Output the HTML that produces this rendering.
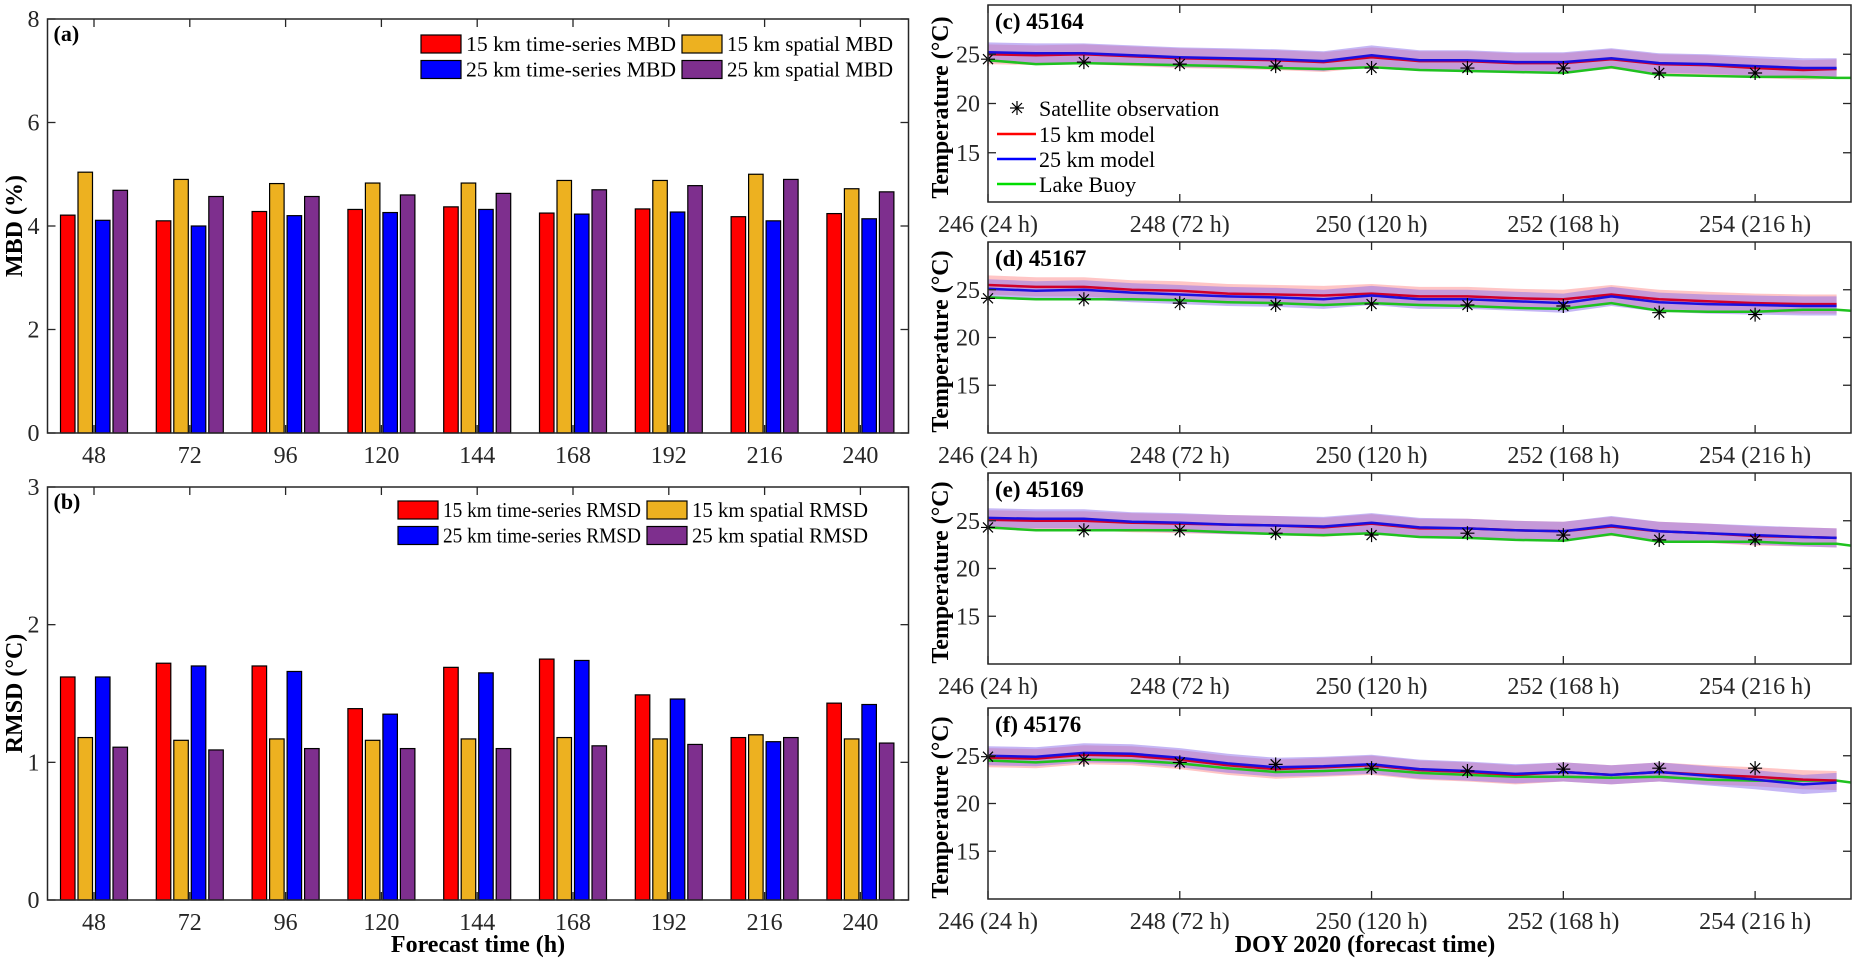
<!DOCTYPE html>
<html><head><meta charset="utf-8">
<style>
html,body{margin:0;padding:0;background:#fff;}
svg{display:block;font-family:"Liberation Serif",serif;}
svg text{font-family:"Liberation Serif",serif;}
</style></head>
<body>
<svg id="fig" width="1852" height="958" viewBox="0 0 1852 958" xmlns="http://www.w3.org/2000/svg" font-family="Liberation Serif, serif"></svg>
<script>
// ---------- Bar chart data ----------
const barCategories = [48,72,96,120,144,168,192,216,240];
const mbd15ts = [4.21,4.10,4.28,4.32,4.37,4.25,4.33,4.18,4.24];
const mbd15sp = [5.04,4.90,4.82,4.83,4.83,4.88,4.88,5.00,4.72];
const mbd25ts = [4.11,4.00,4.20,4.26,4.32,4.23,4.27,4.10,4.14];
const mbd25sp = [4.69,4.57,4.57,4.60,4.63,4.70,4.78,4.90,4.66];
const rmsd15ts = [1.62,1.72,1.70,1.39,1.69,1.75,1.49,1.18,1.43];
const rmsd15sp = [1.18,1.16,1.17,1.16,1.17,1.18,1.17,1.20,1.17];
const rmsd25ts = [1.62,1.70,1.66,1.35,1.65,1.74,1.46,1.15,1.42];
const rmsd25sp = [1.11,1.09,1.10,1.10,1.10,1.12,1.13,1.18,1.14];
const mbdTicks = [0,2,4,6,8];
const rmsdTicks = [0,1,2,3];

// ---------- Time series data ----------
const modelTimes = [246,246.5,247,247.5,248,248.5,249,249.5,250,250.5,251,251.5,252,252.5,253,253.5,254,254.5,254.85];
const buoyTimes = [246,246.5,247,247.5,248,248.5,249,249.5,250,250.5,251,251.5,252,252.5,253,253.5,254,254.5,254.85,255];
const satTimes = [246,247,248,249,250,251,252,253,254];
const doyTicks = [246,248,250,252,254];
const doyTickLabels = ["246 (24 h)","248 (72 h)","250 (120 h)","252 (168 h)","254 (216 h)"];
const tempTicks = [15,20,25];

const c15 = [25.0,24.9,25.0,24.8,24.6,24.5,24.4,24.2,24.7,24.3,24.3,24.1,24.1,24.5,24.0,23.9,23.6,23.4,23.5];
const c25 = [25.2,25.1,25.1,24.9,24.7,24.6,24.5,24.3,24.9,24.4,24.4,24.2,24.2,24.6,24.1,24.0,23.8,23.6,23.6];
const cBuoy = [24.4,24.0,24.1,24.0,23.9,23.8,23.6,23.5,23.7,23.4,23.3,23.2,23.1,23.7,22.9,22.8,22.7,22.7,22.6,22.6];
const cSat = [24.5,24.2,24.0,23.8,23.6,23.6,23.6,23.1,23.1];

const d15 = [25.5,25.3,25.3,25.0,24.9,24.6,24.5,24.4,24.6,24.3,24.3,24.1,24.0,24.5,24.0,23.8,23.6,23.5,23.5];
const d25 = [25.1,24.9,25.0,24.7,24.5,24.3,24.2,24.0,24.4,24.0,24.0,23.8,23.6,24.3,23.7,23.5,23.4,23.3,23.3];
const dBuoy = [24.2,24.0,24.0,24.0,23.9,23.7,23.6,23.4,23.6,23.4,23.3,23.1,23.0,23.6,22.8,22.7,22.7,22.9,22.9,22.8];
const dSat = [24.1,24.0,23.6,23.4,23.5,23.4,23.3,22.6,22.4];

const e15 = [25.1,25.0,25.0,24.8,24.7,24.6,24.5,24.3,24.7,24.2,24.2,24.0,23.9,24.4,23.9,23.7,23.4,23.3,23.2];
const e25 = [25.3,25.2,25.2,24.9,24.8,24.6,24.5,24.4,24.8,24.3,24.2,24.0,23.9,24.5,23.9,23.7,23.5,23.3,23.2];
const eBuoy = [24.3,24.0,24.0,24.0,24.0,23.8,23.6,23.5,23.7,23.3,23.2,23.0,22.9,23.6,22.8,22.8,22.8,22.6,22.6,22.4];
const eSat = [24.3,24.0,24.0,23.7,23.5,23.7,23.5,23.0,23.0];

const f15 = [24.8,24.7,25.1,25.0,24.6,24.0,23.6,23.8,24.0,23.5,23.3,23.0,23.3,23.0,23.3,23.0,22.8,22.5,22.4];
const f25 = [25.0,24.9,25.3,25.2,24.8,24.2,23.8,23.9,24.1,23.6,23.4,23.1,23.3,23.0,23.3,22.9,22.5,22.0,22.2];
const fBuoy = [24.5,24.3,24.6,24.5,24.2,23.7,23.3,23.4,23.6,23.2,23.0,22.8,22.8,22.7,22.8,22.5,22.4,22.4,22.4,22.2];
const fSat = [24.9,24.6,24.3,24.1,23.7,23.4,23.6,23.7,23.7];

const spreadHalf = 1.0;

const NS = "http://www.w3.org/2000/svg";
const svg = document.getElementById('fig');
function mk(tag, attrs, parent){
  const e = document.createElementNS(NS, tag);
  for (const k in attrs) e.setAttribute(k, attrs[k]);
  if (tag === 'text') e.setAttribute('font-family', 'Liberation Serif, serif');
  (parent||svg).appendChild(e);
  return e;
}
function txt(s, attrs, parent){ const e = mk('text', attrs, parent); e.textContent = s; return e; }

// ---------- Bar panels ----------
const BX0 = 47.5, BX1 = 908.5;
const groupStep = 95.8, group0 = 94;
function bx(i){ return group0 + i*groupStep; }
const barColors = ['#ff0000','#edb120','#0000ff','#7e2f8e'];
const barOffsets = [-26.25,-8.75,8.75,26.25];
const barW = 14.5;

function barPanel(opts){
  const g = mk('g', {});
  
  
  const ys = v => opts.y0 - (v - opts.vmin)/(opts.vmax-opts.vmin)*(opts.y0-opts.y1);
  const series = opts.series;
  for (let s=0;s<series.length;s++){
    for (let i=0;i<barCategories.length;i++){
      const cx = bx(i) + barOffsets[s];
      const y = ys(series[s][i]);
      const r = mk('rect', {x:cx-barW/2, y:y, width:barW, height:opts.y0-y, fill:barColors[s], stroke:'#000', 'stroke-width':1.2}, g);
      
      
    }
  }
  const box = mk('rect', {x:BX0, y:opts.y1, width:BX1-BX0, height:opts.y0-opts.y1, fill:'none', stroke:'#262626', 'stroke-width':1.5}, g);
  
  
  for (let i=0;i<barCategories.length;i++){
    const x = bx(i);
    mk('line', {x1:x, x2:x, y1:opts.y0, y2:opts.y0-8, stroke:'#262626', 'stroke-width':1.3}, g);
    mk('line', {x1:x, x2:x, y1:opts.y1, y2:opts.y1+8, stroke:'#262626', 'stroke-width':1.3}, g);
    const t = txt(String(barCategories[i]), {x:x, y:opts.y0+30, 'text-anchor':'middle', 'font-size':24, fill:'#262626'}, g);
    
    
  }
  for (const v of opts.ticks){
    const y = ys(v);
    mk('line', {x1:BX0, x2:BX0+8, y1:y, y2:y, stroke:'#262626', 'stroke-width':1.3}, g);
    mk('line', {x1:BX1, x2:BX1-8, y1:y, y2:y, stroke:'#262626', 'stroke-width':1.3}, g);
    const t = txt(String(v), {x:BX0-8, y:y+8, 'text-anchor':'end', 'font-size':24, fill:'#262626'}, g);
    
    
  }
  const pl = txt(opts.label, {x:BX0+6, y:opts.y1+22, 'font-size':22, 'font-weight':'bold'}, g);
  
  
  const yt = txt(opts.ytitle, {x:0, y:0, 'font-size':24, 'font-weight':'bold', 'text-anchor':'middle', transform:'translate(22,'+((opts.y0+opts.y1)/2)+') rotate(-90)'}, g);
  
  
  const L = opts.legend;
  for (let k=0;k<4;k++){
    const col = k%2===0 ? 0 : 1;
    const row = k<2 ? 0 : 1;
    const sx = col===0 ? L.x1 : L.x2;
    const sy = L.y + row*25.5;
    const ent = mk('g', {}, g);
    
    
    mk('rect', {x:sx, y:sy, width:40, height:18, fill:barColors[k], stroke:'#000', 'stroke-width':1.2}, ent);
    const lt = txt(L.labels[k], {x:sx+45, y:sy+16, 'font-size':21}, ent);
    lt.setAttribute('textLength', L.widths[k]);
    lt.setAttribute('lengthAdjust', 'spacingAndGlyphs');
  }
}
barPanel({name:'mbd-panel', y0:433, y1:19, vmin:0, vmax:8, ticks:mbdTicks, label:'(a)', ytitle:'MBD (%)',
  series:[mbd15ts, mbd15sp, mbd25ts, mbd25sp], keys:['15ts','15sp','25ts','25sp'],
  legend:{x1:421, x2:682, y:35, labels:['15 km time-series MBD','15 km spatial MBD','25 km time-series MBD','25 km spatial MBD'], widths:[210,166,210,166]}});
barPanel({name:'rmsd-panel', y0:900, y1:487, vmin:0, vmax:3, ticks:rmsdTicks, label:'(b)', ytitle:'RMSD (°C)',
  series:[rmsd15ts, rmsd15sp, rmsd25ts, rmsd25sp], keys:['15ts','15sp','25ts','25sp'],
  legend:{x1:398, x2:647, y:501, labels:['15 km time-series RMSD','15 km spatial RMSD','25 km time-series RMSD','25 km spatial RMSD'], widths:[198,176,198,176]}});
const xt = txt('Forecast time (h)', {x:(BX0+BX1)/2, y:952, 'text-anchor':'middle', 'font-size':24, 'font-weight':'bold'});



// ---------- Time series panels ----------
const TX0 = 988, TX1 = 1851, DMIN = 246, DMAX = 255;
const tx = d => TX0 + (d-DMIN)/(DMAX-DMIN)*(TX1-TX0);

function stepPath(times, vals, ys){
  let p = '';
  for (let i=0;i<times.length;i++){
    p += (i===0?'M':'L') + tx(times[i]).toFixed(1) + ',' + ys(vals[i]).toFixed(1) + ' ';
  }
  return p;
}
function bandPath(times, vals, ys){
  let p = '';
  for (let i=0;i<times.length;i++) p += (i===0?'M':'L') + tx(times[i]).toFixed(1) + ',' + ys(vals[i]+spreadHalf).toFixed(1) + ' ';
  for (let i=times.length-1;i>=0;i--) p += 'L' + tx(times[i]).toFixed(1) + ',' + ys(vals[i]-spreadHalf).toFixed(1) + ' ';
  return p + 'Z';
}
function star(g, x, y){
  const s = 7;
  mk('path', {d:`M${x-s},${y}L${x+s},${y}M${x},${y-s}L${x},${y+s}M${x-5},${y-5}L${x+5},${y+5}M${x-5},${y+5}L${x+5},${y-5}`, stroke:'#000', 'stroke-width':1.2, fill:'none'}, g);
}

function tsPanel(o){
  const g = mk('g', {});
  
  
  const ys = v => o.y1 - (v-10)/20*(o.y1-o.y0);
  const b15 = mk('path', {d:bandPath(modelTimes, o.m15, ys), fill:'rgba(255,150,150,0.55)', stroke:'none'}, g);
  
  
  const b25 = mk('path', {d:bandPath(modelTimes, o.m25, ys), fill:'rgba(140,110,235,0.5)', stroke:'none'}, g);
  
  
  const lb = mk('path', {d:stepPath(buoyTimes, o.buoy, ys), fill:'none', stroke:'#1fc21f', 'stroke-width':2.5}, g);
  
  
  const l15 = mk('path', {d:stepPath(modelTimes, o.m15, ys), fill:'none', stroke:'#d0002a', 'stroke-width':2.5}, g);
  
  
  const l25 = mk('path', {d:stepPath(modelTimes, o.m25, ys), fill:'none', stroke:'#1a10e0', 'stroke-width':2.5}, g);
  
  
  const sg = mk('g', {}, g);
  
  
  for (let i=0;i<satTimes.length;i++) star(sg, tx(satTimes[i]), ys(o.sat[i]));
  const box = mk('rect', {x:TX0, y:o.y0, width:TX1-TX0, height:o.y1-o.y0, fill:'none', stroke:'#262626', 'stroke-width':1.5}, g);
  
  
  for (let i=0;i<doyTicks.length;i++){
    const x = tx(doyTicks[i]);
    mk('line', {x1:x, x2:x, y1:o.y1, y2:o.y1-8, stroke:'#262626', 'stroke-width':1.3}, g);
    mk('line', {x1:x, x2:x, y1:o.y0, y2:o.y0+8, stroke:'#262626', 'stroke-width':1.3}, g);
    const t = txt(doyTickLabels[i], {x:x, y:o.y1+30, 'text-anchor':'middle', 'font-size':24, fill:'#262626'}, g);
    
    
  }
  for (const v of tempTicks){
    const y = ys(v);
    mk('line', {x1:TX0, x2:TX0+8, y1:y, y2:y, stroke:'#262626', 'stroke-width':1.3}, g);
    mk('line', {x1:TX1, x2:TX1-8, y1:y, y2:y, stroke:'#262626', 'stroke-width':1.3}, g);
    const t = txt(String(v), {x:TX0-8, y:y+8, 'text-anchor':'end', 'font-size':24, fill:'#262626'}, g);
    
    
  }
  const pl = txt(o.label, {x:TX0+7, y:o.y0+24, 'font-size':23, 'font-weight':'bold'}, g);
  
  
  const yt = txt('Temperature (°C)', {x:0, y:0, 'font-size':24, 'font-weight':'bold', 'text-anchor':'middle', transform:'translate(948,'+((o.y0+o.y1)/2+4)+') rotate(-90)'}, g);
  
  
  return g;
}
tsPanel({name:'panel-c-45164', y0:5, y1:202, label:'(c) 45164', m15:c15, m25:c25, buoy:cBuoy, sat:cSat});
tsPanel({name:'panel-d-45167', y0:242, y1:433, label:'(d) 45167', m15:d15, m25:d25, buoy:dBuoy, sat:dSat});
tsPanel({name:'panel-e-45169', y0:473, y1:664, label:'(e) 45169', m15:e15, m25:e25, buoy:eBuoy, sat:eSat});
tsPanel({name:'panel-f-45176', y0:708, y1:899, label:'(f) 45176', m15:f15, m25:f25, buoy:fBuoy, sat:fSat});

const lg = mk('g', {});


const legRows = [108,134,159,184];
star(lg, 1017, legRows[0]);
const legTxt = ['Satellite observation','15 km model','25 km model','Lake Buoy'];
const legCols = [null,'#ff0000','#0000ff','#00dd00'];
for (let i=0;i<4;i++){
  if (legCols[i]) mk('line', {x1:997, x2:1036, y1:legRows[i], y2:legRows[i], stroke:legCols[i], 'stroke-width':2.5}, lg);
  const t = txt(legTxt[i], {x:1039, y:legRows[i]+8, 'font-size':22}, lg);
  
  
}
const xt2 = txt('DOY 2020 (forecast time)', {x:1365, y:952, 'text-anchor':'middle', 'font-size':24, 'font-weight':'bold'});


</script>
</body></html>
